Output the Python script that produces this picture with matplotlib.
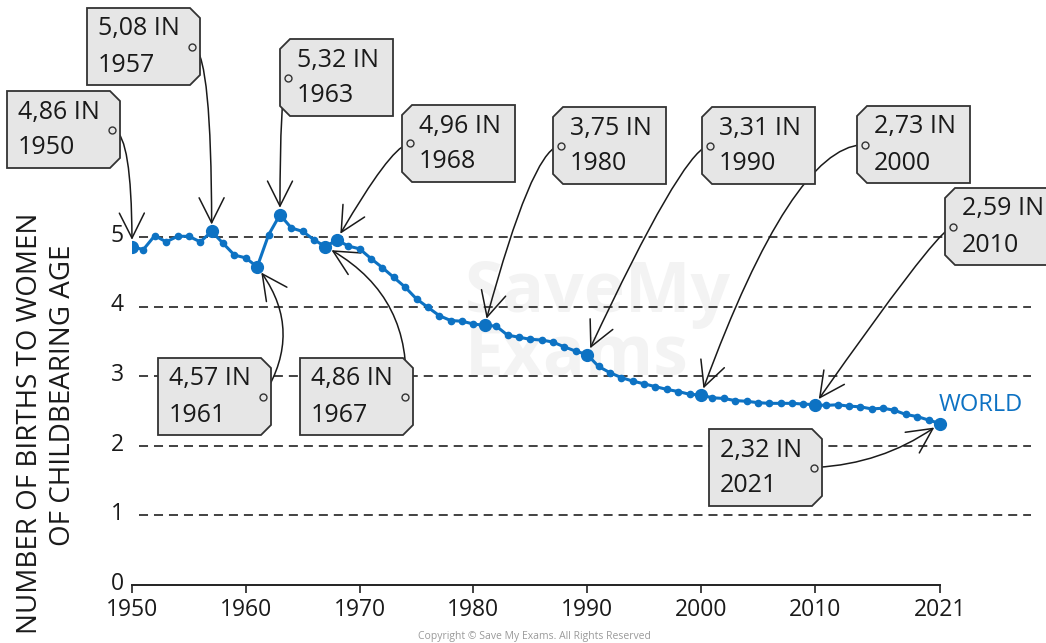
import matplotlib
matplotlib.use('Agg')
import matplotlib.pyplot as plt
import matplotlib.transforms as mtransforms
from matplotlib.patches import Polygon
from matplotlib.lines import Line2D

# ---------------- data ----------------
years = list(range(1950, 2022))
fertility = [4.86, 4.82, 5.02, 4.93, 5.01, 5.01, 4.93, 5.08, 4.91, 4.74,
             4.70, 4.57, 5.03, 5.32, 5.13, 5.08, 4.96, 4.86, 4.96, 4.87,
             4.83, 4.69, 4.56, 4.42, 4.28, 4.11, 3.99, 3.87, 3.80, 3.79,
             3.75, 3.73, 3.72, 3.59, 3.56, 3.53, 3.52, 3.49, 3.42, 3.36,
             3.31, 3.14, 3.05, 2.98, 2.93, 2.89, 2.85, 2.81, 2.78, 2.74,
             2.73, 2.69, 2.68, 2.65, 2.64, 2.62, 2.61, 2.61, 2.61, 2.60,
             2.59, 2.58, 2.59, 2.57, 2.56, 2.53, 2.54, 2.51, 2.45, 2.42,
             2.37, 2.32]

xtick_values = [1950, 1960, 1970, 1980, 1990, 2000, 2010, 2021]
xtick_labels = ['1950', '1960', '1970', '1980', '1990', '2000', '2010', '2021']
ytick_values = [0, 1, 2, 3, 4, 5]
ytick_labels = ['0', '1', '2', '3', '4', '5']

tag_values = ['4,86', '5,08', '5,32', '4,96', '3,75', '3,31', '2,73', '2,59', '4,57', '4,86', '2,32']
tag_years = ['1950', '1957', '1963', '1968', '1980', '1990', '2000', '2010', '1961', '1967', '2021']
tag_targets = [1950, 1957, 1963, 1968, 1981, 1990, 2000, 2010, 1961, 1967, 2021]

series_name = 'WORLD'
ylabel_line1 = 'NUMBER OF BIRTHS TO WOMEN'
ylabel_line2 = 'OF CHILDBEARING AGE'

# ---------------- layout / style ----------------
W, H = 1046, 643
BLUE = '#0d72c3'
DARK = '#222222'
FONT = ['Open Sans', 'DejaVu Sans']
plt.rcParams['font.family'] = FONT

# tag layout: (left px, top px, hole side)
tag_layout = [(7, 91, 'R'), (87, 8, 'R'), (280, 39, 'L'), (402, 105, 'L'),
              (553, 107, 'L'), (702, 107, 'L'), (857, 106, 'L'), (945, 188, 'L'),
              (158, 358, 'R'), (300, 358, 'R'), (709, 429, 'R')]
tag_conn = ['angle3,angleA=0,angleB=90', 'angle3,angleA=0,angleB=90',
            'angle3,angleA=0,angleB=90', 'angle3,angleA=0,angleB=60',
            'angle3,angleA=0,angleB=75', 'angle3,angleA=0,angleB=65',
            'angle3,angleA=0,angleB=70', 'angle3,angleA=0,angleB=55',
            'arc3,rad=0.35', 'arc3,rad=0.33', 'arc3,rad=0.15']
BW, BH, CH = 113, 77, 10

fig = plt.figure(figsize=(W / 100, H / 100), dpi=100)
fig.patch.set_facecolor('white')

px_per_year = 11.38
px_per_unit = 69.6
x_left, y_bottom = 132, 585
x_right = 1031
ax = fig.add_axes([x_left / W, (H - y_bottom) / H, (x_right - x_left) / W, y_bottom / H])
ax.set_xlim(1950, 1950 + (x_right - x_left) / px_per_year)
ax.set_ylim(0, y_bottom / px_per_unit)
ax.patch.set_alpha(0)

for s in ['top', 'right', 'left']:
    ax.spines[s].set_visible(False)
ax.spines['bottom'].set_bounds(1950, 2021)
ax.spines['bottom'].set_linewidth(1.4)
ax.spines['bottom'].set_color(DARK)

ax.set_xticks(xtick_values)
ax.set_xticklabels(xtick_labels, fontsize=16.5, color='#1a1a1a')
ax.set_yticks(ytick_values)
ax.set_yticklabels(ytick_labels, fontsize=16.5, color='#1a1a1a')
ax.tick_params(axis='x', length=6, width=1.2, color=DARK, pad=3)
ax.tick_params(axis='y', length=0, pad=6)
shift_up = mtransforms.ScaledTranslation(0, 3 / 72, fig.dpi_scale_trans)
for lab in ax.get_yticklabels():
    lab.set_transform(lab.get_transform() + shift_up)

# watermark
fig.text(465 / W, (H - 325) / H, 'SaveMy\nExams', fontsize=50, fontweight='bold',
         color='#f3f3f3', ha='left', va='center', linespacing=0.85, zorder=-5)

ax.hlines([1, 2, 3, 4, 5], 1950.6, ax.get_xlim()[1], colors='#333333',
          linestyles=(0, (5, 3.3)), linewidth=1.3, zorder=1)

ax.plot(years, fertility, color=BLUE, lw=2.2, marker='o', ms=4.5, zorder=3,
        solid_capstyle='round')
hl_y = [fertility[years.index(t)] for t in tag_targets]
ax.plot(tag_targets, hl_y, 'o', color=BLUE, ms=8.5, zorder=4, linestyle='none')

ax.text(2024.6, 2.59, series_name, color=BLUE, fontsize=17, ha='center', va='center')

# tags + arrows
for val, yr, tgt, (bx, by, side), conn in zip(tag_values, tag_years, tag_targets,
                                              tag_layout, tag_conn):
    x0, x1, y0, y1 = bx, bx + BW, by, by + BH
    if side == 'R':
        pts = [(x0, y0), (x1 - CH, y0), (x1, y0 + CH), (x1, y1 - CH), (x1 - CH, y1), (x0, y1)]
        hx = x1 - 8
        tx = x0 + 11
    else:
        pts = [(x0 + CH, y0), (x1, y0), (x1, y1), (x0 + CH, y1), (x0, y1 - CH), (x0, y0 + CH)]
        hx = x0 + 8
        tx = x0 + 17
    hy = (y0 + y1) / 2
    poly = Polygon([(p[0] / W, (H - p[1]) / H) for p in pts], closed=True,
                   transform=fig.transFigure, facecolor='#e6e6e6', edgecolor='#333333',
                   linewidth=1.3, zorder=5)
    fig.add_artist(poly)
    fig.add_artist(Line2D([hx / W], [(H - hy) / H], marker='o', ms=5, mfc='#e6e6e6',
                          mec='#333333', mew=1.0, transform=fig.transFigure, zorder=6))
    fig.text(tx / W, (H - (y0 + 21)) / H, f'{val} IN', fontsize=18, color='#1a1a1a',
             ha='left', va='center', zorder=7)
    fig.text(tx / W, (H - (y0 + 57)) / H, yr, fontsize=18, color='#1a1a1a',
             ha='left', va='center', zorder=7)
    ty = fertility[years.index(tgt)]
    ax.annotate('', xy=(tgt, ty), xycoords='data',
                xytext=(hx, H - hy), textcoords='figure pixels',
                arrowprops=dict(arrowstyle='->,head_length=0.9,head_width=0.45',
                                connectionstyle=conn, color='#1a1a1a', lw=1.1,
                                shrinkA=2, shrinkB=5, mutation_scale=20),
                annotation_clip=False, zorder=2)

# y-axis label (two lines)
fig.text(30 / W, (H - 423) / H, ylabel_line1, rotation=90, fontsize=20,
         color='#1a1a1a', ha='center', va='center')
fig.text(63 / W, (H - 395) / H, ylabel_line2, rotation=90, fontsize=20,
         color='#1a1a1a', ha='center', va='center')

fig.text(534 / W, (H - 636) / H, 'Copyright \u00a9 Save My Exams. All Rights Reserved',
         fontsize=7.5, color='#9a9a9a', ha='center', va='center')

fig.savefig('out.png', dpi=100, facecolor='white')
